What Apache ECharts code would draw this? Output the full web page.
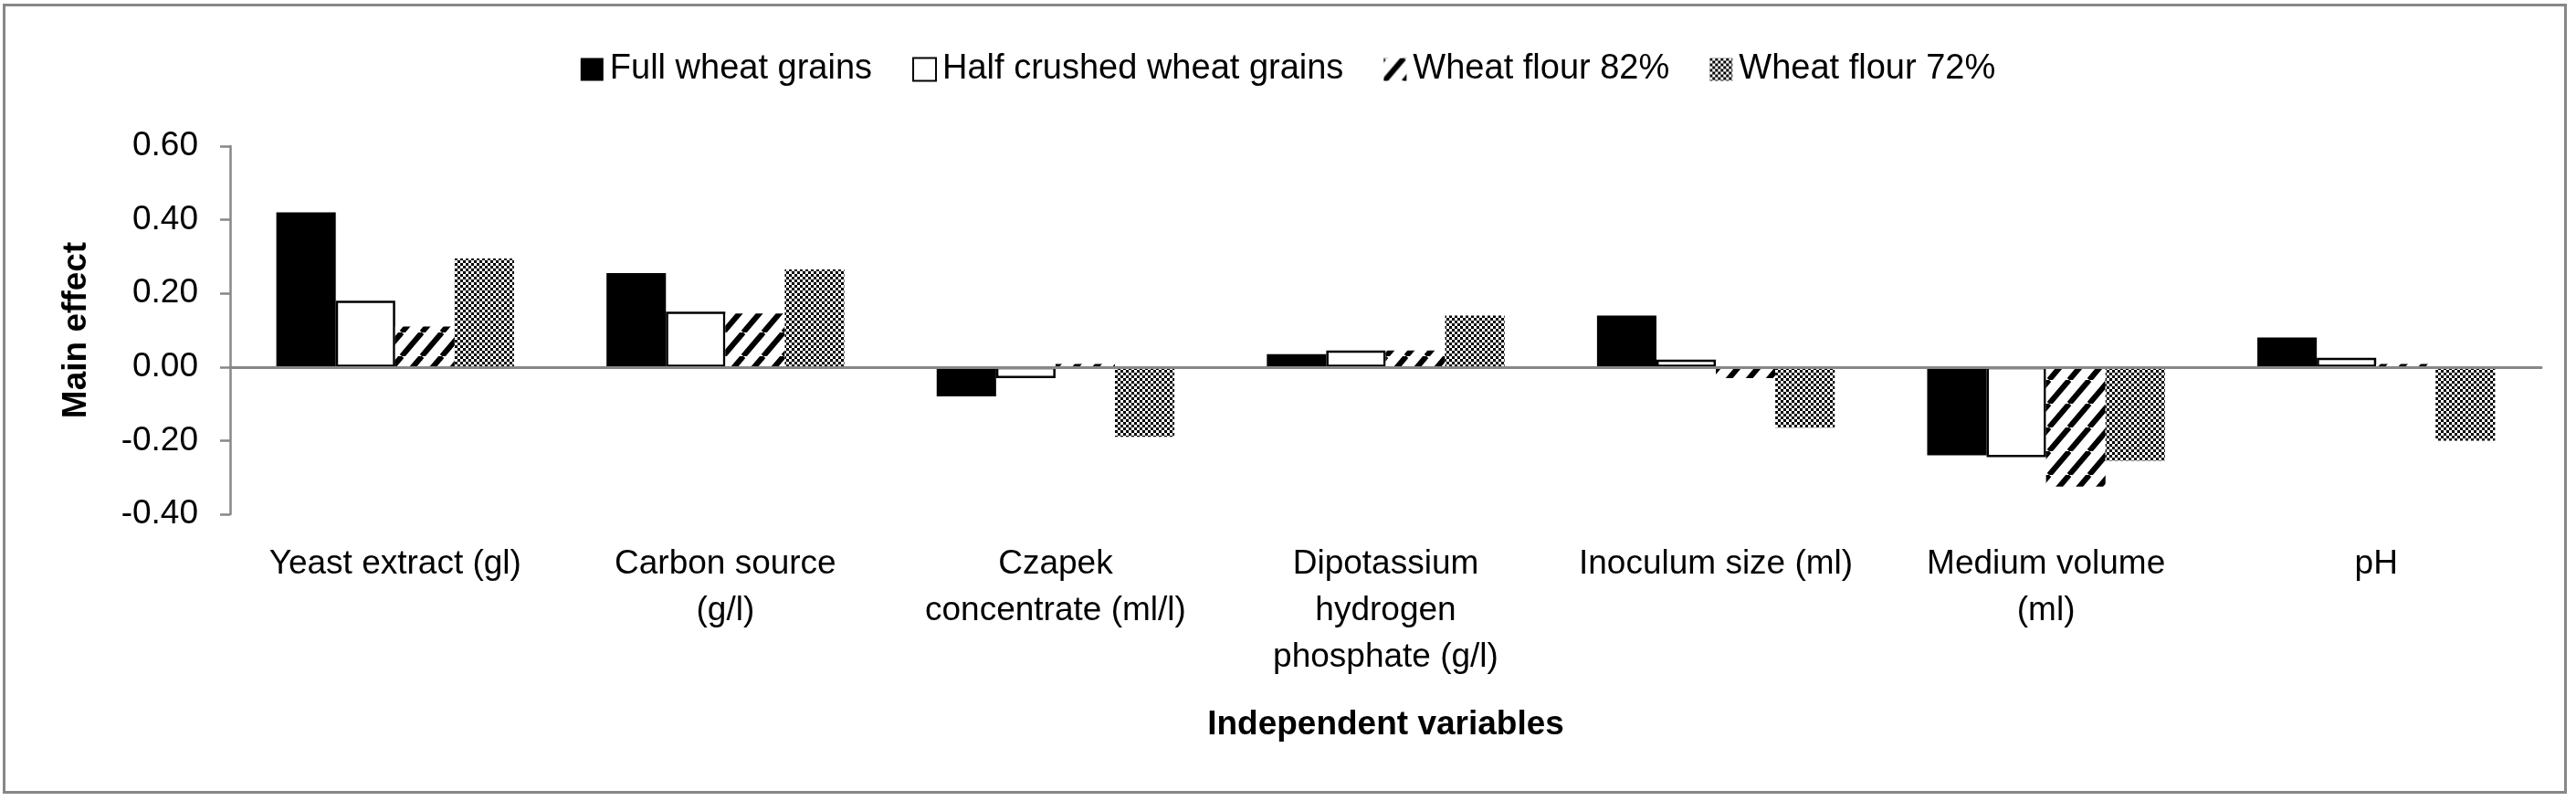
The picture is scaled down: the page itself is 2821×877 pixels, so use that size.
<!DOCTYPE html>
<html>
<head>
<meta charset="utf-8">
<title>Main effect</title>
<script src="https://cdn.jsdelivr.net/npm/echarts@6/dist/echarts.min.js"></script>
<style>
    html, body { margin: 0; padding: 0; background: #fff; }
    #mymain { width: 2821px; height: 877px; }
</style>
</head>
<body>
<div id="mymain"></div>
<script type="text/javascript">
    // 数据
    var categories = ['Yeast extract (gl)', 'Carbon source\n(g/l)', 'Czapek\nconcentrate (ml/l)',
        'Dipotassium\nhydrogen\nphosphate (g/l)', 'Inoculum size (ml)', 'Medium volume\n(ml)', 'pH'];
    var seriesNames = ['Full wheat grains', 'Half crushed wheat grains', 'Wheat flour 82%', 'Wheat flour 72%'];
    var fullGrains = [0.42, 0.255, -0.08, 0.035, 0.14, -0.24, 0.08];
    var halfCrushed = [0.18, 0.15, -0.03, 0.045, 0.02, -0.245, 0.025];
    var flour82 = [0.11, 0.145, 0.008, 0.045, -0.03, -0.325, 0.008];
    var flour72 = [0.295, 0.265, -0.19, 0.14, -0.165, -0.255, -0.20];
    var yTicks = { min: -0.4, max: 0.6, step: 0.2 };

    var FONT = '"Liberation Sans", Arial, sans-serif';
    var GRAY = '#878787';

    // 斜线填充
    function hatchPattern() {
        var w = 22, h = 26;
        var c = document.createElement('canvas');
        c.width = w; c.height = h;
        var ctx = c.getContext('2d');
        ctx.fillStyle = '#fff';
        ctx.fillRect(0, 0, w, h);
        ctx.strokeStyle = '#000';
        ctx.lineWidth = 6;
        for (var k = -1; k <= 1; k++) {
            ctx.beginPath();
            ctx.moveTo(k * w, h);
            ctx.lineTo(k * w + w, 0);
            ctx.stroke();
        }
        return c;
    }

    // 棋盘格填充
    function checkerPattern() {
        var s = 3;
        var c = document.createElement('canvas');
        c.width = s * 2; c.height = s * 2;
        var ctx = c.getContext('2d');
        ctx.fillStyle = '#fff';
        ctx.fillRect(0, 0, s * 2, s * 2);
        ctx.fillStyle = '#000';
        ctx.fillRect(0, 0, s, s);
        ctx.fillRect(s, s, s, s);
        return c;
    }

    var myChart = echarts.init(document.getElementById('mymain'));

    var option = {
        backgroundColor: '#fff',
        animation: false,
        textStyle: { fontFamily: FONT, color: '#000' },
        graphic: [{
            type: 'rect',
            shape: { x: 4.5, y: 5.5, width: 2805, height: 862 },
            style: { fill: null, stroke: GRAY, lineWidth: 3 },
            silent: true
        }],
        legend: {
            top: 52,
            left: 'center',
            icon: 'rect',
            itemWidth: 25,
            itemHeight: 25,
            itemGap: 44,
            textStyle: { fontSize: 38, color: '#000', fontFamily: FONT, padding: [0, 0, 0, 2] },
            data: seriesNames
        },
        grid: {
            left: 252,
            right: 38,
            top: 160,
            bottom: 314,
            outerBoundsMode: 'none'
        },
        xAxis: [{
            type: 'category',
            data: categories,
            position: 'bottom',
            axisLine: { show: false, onZero: false },
            axisTick: { show: false },
            axisLabel: {
                interval: 0,
                margin: 29,
                fontSize: 37,
                lineHeight: 51,
                color: '#000',
                align: 'center'
            },
            name: 'Independent variables',
            nameLocation: 'middle',
            nameGap: 212,
            nameTextStyle: { fontSize: 37, fontWeight: 'bold', color: '#000' }
        }, {
            // 零线
            type: 'category',
            data: categories,
            position: 'bottom',
            z: 5,
            axisLine: { show: true, onZero: true, lineStyle: { color: GRAY, width: 3 } },
            axisTick: { show: false },
            axisLabel: { show: false }
        }],
        yAxis: {
            type: 'value',
            min: yTicks.min,
            max: yTicks.max,
            interval: yTicks.step,
            axisLine: { show: true, lineStyle: { color: GRAY, width: 2.5 } },
            axisTick: { show: true, length: 11, lineStyle: { color: GRAY, width: 2.5 } },
            splitLine: { show: false },
            axisLabel: {
                margin: 35,
                fontSize: 37,
                color: '#000',
                formatter: function (v) { return v.toFixed(2); }
            },
            name: 'Main effect',
            nameLocation: 'middle',
            nameGap: 150,
            nameTextStyle: { fontSize: 37, fontWeight: 'bold', color: '#000' }
        },
        series: [{
            name: seriesNames[0],
            type: 'bar',
            barGap: '0%',
            barCategoryGap: '28%',
            itemStyle: { color: '#000' },
            data: fullGrains
        }, {
            name: seriesNames[1],
            type: 'bar',
            barGap: '0%',
            barCategoryGap: '28%',
            itemStyle: { color: '#fff', borderColor: '#000', borderWidth: 2.5 },
            data: halfCrushed
        }, {
            name: seriesNames[2],
            type: 'bar',
            barGap: '0%',
            barCategoryGap: '28%',
            itemStyle: { color: { image: hatchPattern(), repeat: 'repeat' } },
            data: flour82
        }, {
            name: seriesNames[3],
            type: 'bar',
            barGap: '0%',
            barCategoryGap: '28%',
            itemStyle: { color: { image: checkerPattern(), repeat: 'repeat' } },
            data: flour72
        }]
    };

    myChart.setOption(option);
</script>
</body>
</html>
